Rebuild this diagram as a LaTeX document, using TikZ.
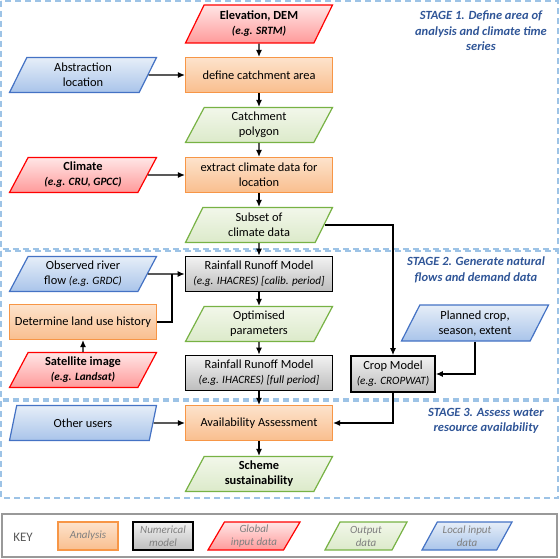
\documentclass[tikz,border=0pt]{standalone}
\usepackage{fontspec}
\setmainfont{Carlito}
\usetikzlibrary{shapes.geometric,arrows.meta}

\definecolor{anaedge}{HTML}{F79646}
\definecolor{anatop}{HTML}{FDE3CC}
\definecolor{anabot}{HTML}{F9BE8E}
\definecolor{modtop}{HTML}{F2F2F2}
\definecolor{modbot}{HTML}{BDBDBD}
\definecolor{globedge}{HTML}{FF0000}
\definecolor{globtop}{HTML}{FFE6E6}
\definecolor{globbot}{HTML}{FF9A9A}
\definecolor{outedge}{HTML}{77B244}
\definecolor{outtop}{HTML}{F2F7EA}
\definecolor{outbot}{HTML}{DCEACA}
\definecolor{locedge}{HTML}{4472C4}
\definecolor{loctop}{HTML}{E6EEF8}
\definecolor{locbot}{HTML}{A9C4EA}
\definecolor{stageline}{HTML}{9DC3E6}
\definecolor{stageink}{HTML}{2F5597}
\definecolor{keyink}{HTML}{7F7F7F}

\newcommand{\eg}[1]{{\fontsize{11.2}{13}\selectfont\itshape #1}}

\begin{document}
\begin{tikzpicture}[
    x=1pt, y=-1pt,
    box/.style={minimum width=147pt, minimum height=35pt, align=center, inner sep=1pt,
        line width=1.2pt, font=\fontsize{12.4}{15}\selectfont},
    para/.style={box, trapezium, trapezium left angle=56, trapezium right angle=124,
        trapezium stretches body},
    analysis/.style={box, draw=anaedge, top color=anatop, bottom color=anabot},
    model/.style={box, draw=black, line width=1.8pt, top color=modtop, bottom color=modbot},
    globalin/.style={para, draw=globedge, top color=globtop, bottom color=globbot},
    output/.style={para, draw=outedge, top color=outtop, bottom color=outbot},
    localin/.style={para, draw=locedge, top color=loctop, bottom color=locbot},
    keyitem/.style={minimum height=28pt, text=keyink, font=\fontsize{11}{13}\selectfont\itshape},
    arr/.style={-{Latex[length=7pt,width=6pt]}, line width=1.1pt},
    stage/.style={draw=stageline, dash pattern=on 6pt off 4pt, line width=1.3pt},
    stagetext/.style={text=stageink, align=center, font=\fontsize{12.5}{15.5}\selectfont\bfseries\itshape}
    ]
    \useasboundingbox (0,0) rectangle (560,559);

    % Stages
    \draw[stage] (1,1) rectangle (558,249);
    \draw[stage] (1,251) rectangle (558,399);
    \draw[stage] (1,401) rectangle (558,498);
    \node[stagetext] (s1) at (481,31) {STAGE 1. Define area of\\analysis and climate time\\series};
    \node[stagetext] (s2) at (476,270) {STAGE 2. Generate natural\\flows and demand data};
    \node[stagetext] (s3) at (486,421) {STAGE 3. Assess water\\resource availability};

    % Main column
    \node[globalin, minimum height=38pt] (elev) at (259,24) {\textbf{Elevation, DEM}\\\eg{\textbf{(e.g. SRTM)}}};
    \node[analysis] (define) at (259,75) {define catchment area};
    \node[output] (catch) at (259,125) {Catchment\\polygon};
    \node[analysis] (extract) at (259,175) {extract climate data for\\location};
    \node[output] (subset) at (259,225) {Subset of\\climate data};
    \node[model] (rrcal) at (259,274) {Rainfall Runoff Model\\\eg{(e.g. IHACRES) [calib. period]}};
    \node[output] (optim) at (259,324) {Optimised\\parameters};
    \node[model] (rrfull) at (259,373) {Rainfall Runoff Model\\\eg{(e.g. IHACRES) [full period]}};
    \node[analysis] (avail) at (259,423) {Availability Assessment};
    \node[output] (scheme) at (259,474) {\textbf{Scheme}\\\textbf{sustainability}};

    % Left column
    \node[localin] (abstr) at (83,75) {Abstraction\\location};
    \node[globalin] (climate) at (83,175) {\textbf{Climate}\\\eg{\textbf{(e.g. CRU, GPCC)}}};
    \node[localin] (obs) at (83,274) {Observed river\\flow \eg{(e.g. GRDC)}};
    \node[analysis] (landuse) at (83,322) {Determine land use history};
    \node[globalin] (sat) at (83,370) {\textbf{Satellite image}\\\eg{\textbf{(e.g. Landsat)}}};
    \node[localin] (other) at (83,423) {Other users};

    % Crop branch
    \node[model, minimum width=84pt, minimum height=36pt] (crop) at (393,374) {Crop Model\\\eg{(e.g. CROPWAT)}};
    \node[localin, minimum height=36pt] (planned) at (475,323) {Planned crop,\\season, extent};

    % Connectors
    \draw[arr] (elev) -- (define);
    \draw[arr] (abstr) -- (define);
    \draw[arr] (define) -- (catch);
    \draw[arr] (catch) -- (extract);
    \draw[arr] (climate) -- (extract);
    \draw[arr] (extract) -- (subset);
    \draw[arr] (subset) -- (rrcal);
    \draw[arr] (rrcal) -- (optim);
    \draw[arr] (optim) -- (rrfull);
    \draw[arr] (rrfull) -- (avail);
    \draw[arr] (avail) -- (scheme);
    \draw[arr] (other) -- (avail);
    \coordinate (join) at (172,274);
    \draw[arr] (obs) -- (rrcal);
    \draw[line width=1.1pt] (landuse.east) -| (join);
    \draw[arr] (sat) -- (landuse);
    \draw[arr] (subset.east) -| (crop.north);
    \draw[arr] (planned.south) |- (crop.east);
    \draw[arr] (crop.south) |- (avail.east);

    % Key
    \draw[draw=keyink!80, line width=1.3pt] (2,514) rectangle (557,557);
    \node[text=black!65, font=\fontsize{13}{15}\selectfont] (key) at (23,537) {KEY};
    \node[analysis, keyitem, minimum width=60pt] (kana) at (88,536) {Analysis};
    \node[model, keyitem, minimum width=60pt] (kmod) at (163,536) {Numerical\\model};
    \node[globalin, keyitem, minimum width=92pt] (kglob) at (254,536) {Global\\input data};
    \node[output, keyitem, minimum width=82pt] (kout) at (366,536) {Output\\data};
    \node[localin, keyitem, minimum width=90pt] (kloc) at (467,536) {Local input\\data};
\end{tikzpicture}
\end{document}
